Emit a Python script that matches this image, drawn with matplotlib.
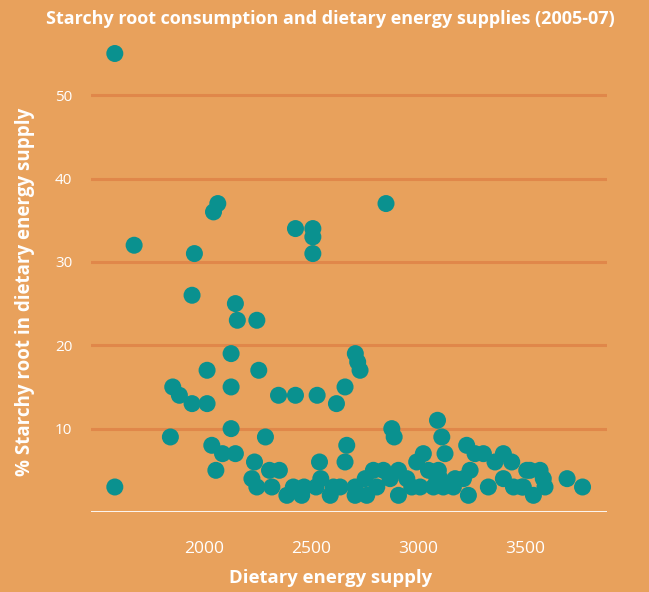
import matplotlib
matplotlib.use("Agg")
import matplotlib.pyplot as plt

# ── Theme ──
BG = "#E8A15C"
GRID = "#E0874A"
TEAL = "#0A918F"
WHITE = "#FFFFFF"

# ── Data: dietary energy supply (kcal) vs % starchy root ──
energy = [
    1586, 1676, 1957, 2066, 2046, 2428, 2509, 2509, 2509, 2850,
    1946, 2148, 2157, 2248,
    2128, 2016, 2257, 1856, 1887, 1946, 2016, 2128, 2349, 2428, 2529, 2619, 2659,
    1845, 2128, 2288, 2038, 2088, 2148, 2057, 1586,
    2707, 2718, 2729, 3090, 2877, 2888, 3110, 2667, 2659,
    2237, 2225, 2248, 2307, 2353, 2318, 2388, 2418, 2468, 2457,
    2540, 2546, 2524, 2590, 2605,
    3024, 2993, 2791, 2838, 2908, 2753, 2706, 2706, 2760, 2807,
    2869, 2908, 2947, 2970, 3009, 3048, 3071, 3087, 2636,
    3125, 3226, 3265, 3304, 3397, 3358, 3436, 3094, 3102, 3242,
    3172, 3211, 3117, 3164, 3234, 3327, 3397, 3444, 3506, 3483,
    3521, 3568, 3591, 3583, 3537, 3490, 3694, 3766,
]
starchy = [
    55, 32, 31, 37, 36, 34, 34, 33, 31, 37,
    26, 25, 23, 23,
    19, 17, 17, 15, 14, 13, 13, 15, 14, 14, 14, 13, 15,
    9, 10, 9, 8, 7, 7, 5, 3,
    19, 18, 17, 11, 10, 9, 9, 8, 6,
    6, 4, 3, 5, 5, 3, 2, 3, 3, 2,
    6, 4, 3, 2, 3,
    7, 6, 5, 5, 5, 4, 3, 2, 2, 3,
    4, 2, 4, 3, 3, 5, 3, 4, 3,
    7, 8, 7, 7, 7, 6, 6, 5, 4, 5,
    4, 4, 3, 3, 2, 3, 4, 3, 5, 3,
    5, 5, 3, 4, 2, 3, 4, 3,
]

xticks = [2000, 2500, 3000, 3500]
yticks = [10, 20, 30, 40, 50]

TEXT_FONT = ["Open Sans", "DejaVu Sans"]

fig = plt.figure(figsize=(6.49, 5.92), dpi=100, facecolor=BG)
ax = fig.add_axes([91 / 649, 1 - 512 / 592, (607 - 91) / 649, (512 - 41) / 592])
ax.set_facecolor(BG)

for yv in yticks:
    ax.axhline(yv, color=GRID, lw=2.2, zorder=1)
ax.axhline(0, color=WHITE, lw=2.0, zorder=1)

ax.scatter(energy, starchy, s=150, color=TEAL, edgecolors="none", zorder=3)

ax.set_xlim(1475, 3880)
ax.set_ylim(0, 56.5)
for sp in ax.spines.values():
    sp.set_visible(False)

ax.set_xticks(xticks)
ax.set_xticklabels([str(v) for v in xticks], family=TEXT_FONT, fontsize=12.5, color=WHITE)
ax.set_yticks(yticks)
ax.set_yticklabels([str(v) for v in yticks], family=TEXT_FONT, fontsize=11, color=WHITE)
ax.tick_params(axis="both", length=0)
ax.tick_params(axis="x", pad=21)
ax.tick_params(axis="y", pad=13.5)

fig.text(331 / 649, 1 - 578 / 592, "Dietary energy supply", ha="center", va="center",
         family=TEXT_FONT, fontsize=13.3, fontweight="bold", color=WHITE)
fig.text(25 / 649, 1 - 292 / 592, "% Starchy root in dietary energy supply", ha="center",
         va="center", rotation=90, family=TEXT_FONT, fontsize=13.5, fontweight="bold", color=WHITE)
fig.text(330 / 649, 1 - 19 / 592, "Starchy root consumption and dietary energy supplies (2005-07)",
         ha="center", va="center", family=TEXT_FONT, fontsize=13, fontweight="bold", color=WHITE)

fig.savefig("out.png", dpi=100, facecolor=BG)
